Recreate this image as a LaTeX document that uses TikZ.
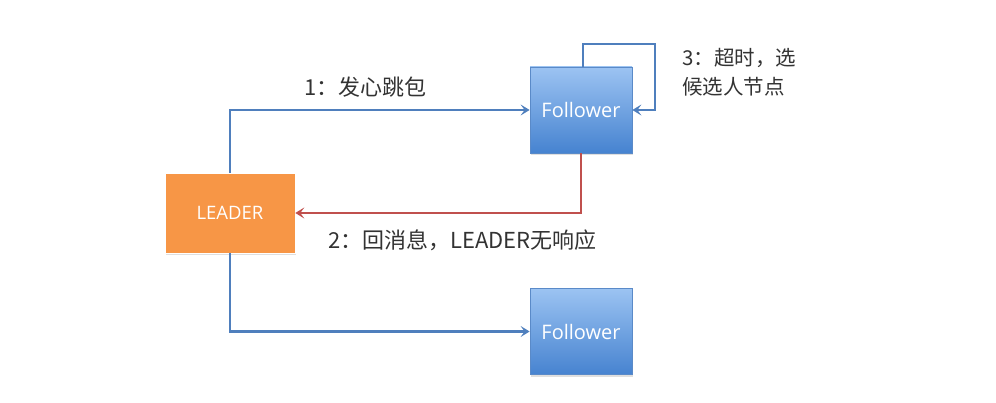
\documentclass[tikz,border=0pt]{standalone}
\usepackage{fontspec}
\setmainfont{Open Sans}
\newfontfamily\cjk{Noto Sans CJK SC}
\usetikzlibrary{arrows.meta,shadows}
\definecolor{lineblue}{HTML}{4F7FBD}
\definecolor{linered}{HTML}{C0504D}
\definecolor{leaderfill}{HTML}{F79646}
\definecolor{followtop}{HTML}{9CC3F2}
\definecolor{followbot}{HTML}{4683D0}
\definecolor{followedge}{HTML}{5A8AC8}
\definecolor{labeltext}{HTML}{333333}
\tikzset{
  leaderbox/.style={draw=white, line width=0.6pt, fill=leaderfill, minimum width=130pt, minimum height=80pt,
    inner sep=0pt, text=white, font=\fontsize{18.5}{20}\selectfont,
    drop shadow={opacity=0.25, shadow xshift=1pt, shadow yshift=-2pt}},
  followbox/.style={draw=followedge, line width=0.8pt, top color=followtop, bottom color=followbot,
    minimum width=102pt, minimum height=86pt, inner sep=0pt, text=white, font=\fontsize{20}{22}\selectfont,
    drop shadow={opacity=0.25, shadow xshift=1pt, shadow yshift=-2pt}},
  link/.style={line width=2.6pt, -{Stealth[length=9pt, width=11pt, inset=4pt]}},
  bluelink/.style={link, draw=lineblue},
  redlink/.style={link, draw=linered},
  steplabel/.style={text=labeltext, font=\cjk\fontsize{22}{29}\selectfont, inner sep=0pt}
}
\begin{document}
\begin{tikzpicture}[x=1pt, y=-1pt]
  \useasboundingbox (0,0) rectangle (996,403);
  \node[leaderbox] (leader) at (230,213) {LEADER};
  \node[followbox] (f1) at (581,110) {Follower};
  \node[followbox] (f2) at (581,331.5) {Follower};
  \coordinate (loopA) at (583,44);
  \coordinate (loopB) at (655,44);
  % heartbeat to the first follower
  \draw[bluelink] (leader.north) |- (f1.west);
  % heartbeat to the second follower
  \draw[bluelink] (leader.south) |- (f2.west);
  % reply with no answer from the leader
  \draw[redlink] (f1.south) |- (leader.east);
  % timeout loop back to itself
  \draw[bluelink] (f1.north -| loopA) -- (loopA) -- (loopB) |- (f1.east);
  \node[steplabel, anchor=west] (l1) at (304,87) {1：发心跳包};
  \node[steplabel, anchor=west] (l2) at (328,240) {2：回消息，LEADER无响应};
  \node[steplabel, anchor=west, align=left, font=\cjk\fontsize{20.5}{29}\selectfont] (l3) at (682,72) {3：超时，选\\候选人节点};
\end{tikzpicture}
\end{document}
